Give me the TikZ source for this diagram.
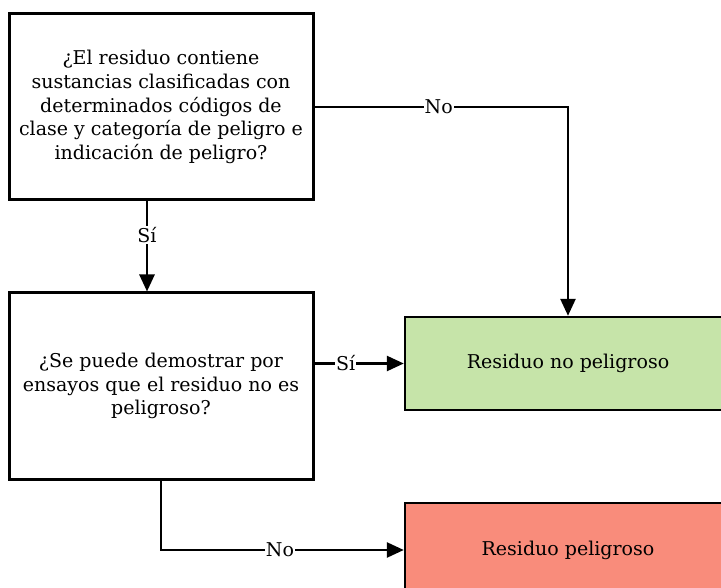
\documentclass[tikz,border=0pt]{standalone}
\usepackage{fontspec}
\setmainfont{DejaVu Serif}
\usetikzlibrary{arrows.meta}
\definecolor{okgreen}{HTML}{C6E4A9}
\definecolor{badred}{HTML}{F98C7B}
\begin{document}
\begin{tikzpicture}[x=1pt,y=1pt,
  box/.style={draw=black,line width=3pt,align=center,inner sep=0pt,
    font=\fontsize{19}{23.7}\selectfont},
  conn/.style={line width=2.6pt,-{Triangle[length=17pt,width=15pt]}},
  lab/.style={fill=white,inner sep=1pt,font=\fontsize{19}{20}\selectfont}]
\useasboundingbox (0,0) rectangle (721,-588);
\node[box,minimum width=304,minimum height=186] (q1) at (161,-107)
  {¿El residuo contiene\\sustancias clasificadas con\\determinados códigos de\\clase y categoría de peligro e\\indicación de peligro?};
\node[box,minimum width=304,minimum height=186] (q2) at (161,-386)
  {¿Se puede demostrar por\\ensayos que el residuo no es\\peligroso?};
\node[box,line width=2.4pt,fill=okgreen,minimum width=326,minimum height=93] (g) at (568,-363.5)
  {Residuo no peligroso};
\node[box,line width=2.4pt,fill=badred,minimum width=326,minimum height=94] (r) at (568,-550)
  {Residuo peligroso};
\coordinate (c1) at (568,-107);
\coordinate (c2) at (161,-550);
\draw[conn] (q1.east) -- node[lab,pos=0.49]{No} (c1) -- (g.north);
\draw[conn] ([xshift=-14pt]q1.south) -- node[lab,pos=0.37]{Sí} ([xshift=-14pt]q2.north);
\draw[conn] (q2.east |- g.west) -- node[lab,pos=0.35]{Sí} (g.west);
\draw[conn] (q2.south) -- (c2) -- node[lab,pos=0.49]{No} (r.west);
\end{tikzpicture}
\end{document}
